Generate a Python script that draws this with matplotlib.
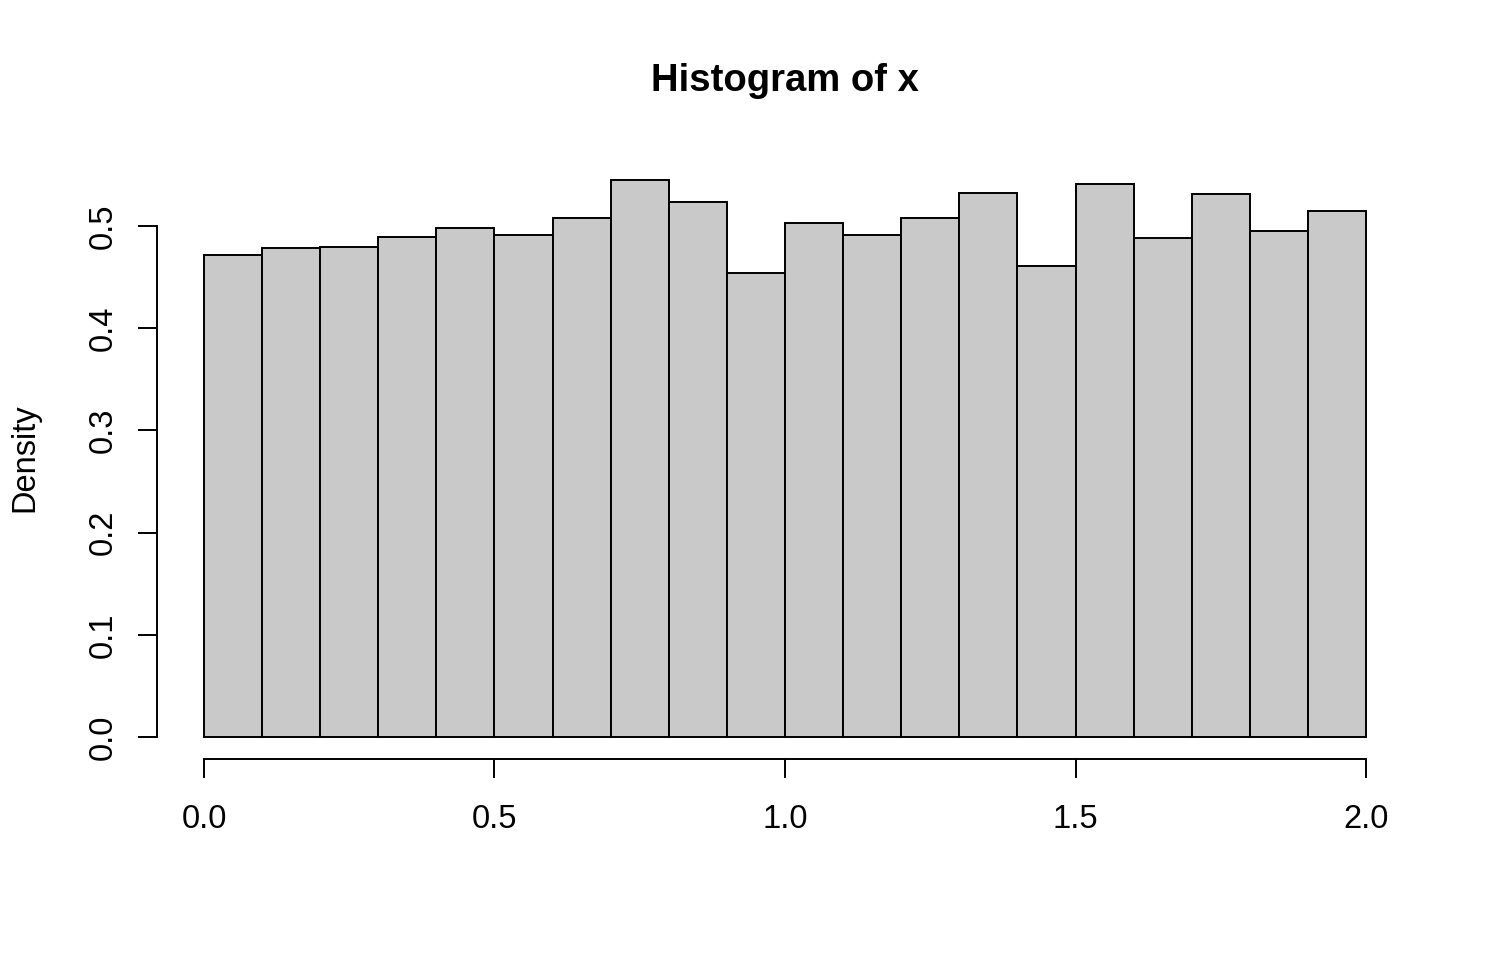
import matplotlib.pyplot as plt

plt.rcParams['font.family'] = ['Liberation Sans', 'DejaVu Sans']

# bin edges and density of each bin
bin_edges = [0.0, 0.1, 0.2, 0.3, 0.4, 0.5, 0.6, 0.7, 0.8, 0.9, 1.0,
             1.1, 1.2, 1.3, 1.4, 1.5, 1.6, 1.7, 1.8, 1.9, 2.0]
density = [0.4713, 0.4782, 0.4795, 0.4892, 0.4980, 0.4912, 0.5082, 0.5450,
           0.5232, 0.4540, 0.5026, 0.4912, 0.5082, 0.5323, 0.4612, 0.5413,
           0.4883, 0.5313, 0.4954, 0.5150]
x_ticks = [0.0, 0.5, 1.0, 1.5, 2.0]
y_ticks = [0.0, 0.1, 0.2, 0.3, 0.4, 0.5]

fig = plt.figure(figsize=(14.94, 9.56), dpi=100)
ax = fig.add_axes([0.1054, 0.2058, 0.8401, 0.6292])

widths = [b - a for a, b in zip(bin_edges[:-1], bin_edges[1:])]
ax.bar(bin_edges[:-1], density, width=widths, align='edge',
       color='#C9C9C9', edgecolor='black', linewidth=1.4)

# R-style axes: 4% padding, axis lines only over the tick range
ax.set_xlim(-0.08, 2.08)
ax.set_ylim(-0.0218, 0.5668)
for s in ['top', 'right']:
    ax.spines[s].set_visible(False)
ax.spines['left'].set_bounds(0, 0.5)
ax.spines['bottom'].set_bounds(0, 2)
ax.spines['left'].set_linewidth(1.4)
ax.spines['bottom'].set_linewidth(1.4)

ax.set_xticks(x_ticks)
ax.set_xticklabels([f"{t:.1f}" for t in x_ticks])
ax.set_yticks(y_ticks)
ax.set_yticklabels([f"{t:.1f}" for t in y_ticks], rotation=90, va='center')
ax.tick_params(axis='both', length=14, width=1.4, labelsize=23.5, pad=18)
ax.tick_params(axis='y', pad=14)

fig.text(0.0167, 0.521, "Density", rotation=90, ha='center', va='center', fontsize=23.5)
fig.text(0.5254, 0.915, "Histogram of x", ha='center', va='center',
         fontsize=27.5, fontweight='bold')

fig.savefig("out.png", dpi=100)
